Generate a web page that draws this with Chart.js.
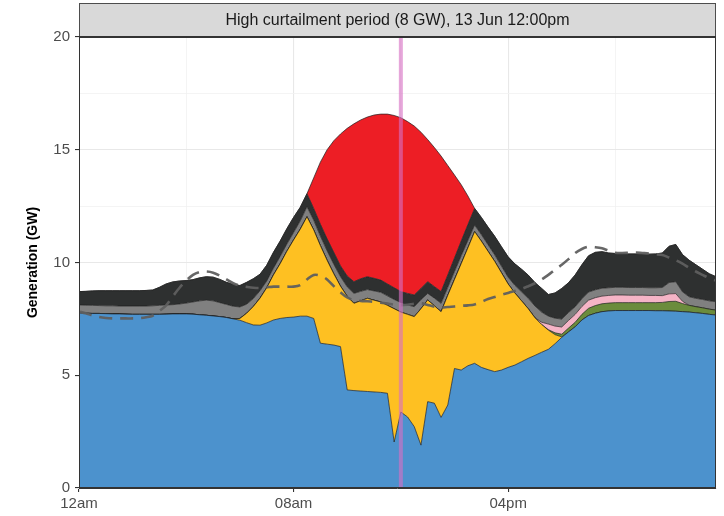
<!DOCTYPE html>
<html>
<head>
<meta charset="utf-8">
<script src="https://cdn.jsdelivr.net/npm/chart.js@4/dist/chart.umd.min.js"></script>
<style>
  html, body { margin: 0; padding: 0; background: #ffffff; }
  #wrap { width: 724px; height: 516px; position: relative; }
</style>
</head>
<body>
<div id="wrap"><canvas id="chart" width="724" height="516"></canvas></div>
<script>
// 15-minute generation intervals across one day (hours after midnight)
const SLOT_HOURS = 0.25;
const SLOT_COUNT = 96;

// Tick labels shown on the time axis
const timeTickLabels = { 0: '12am', 8: '08am', 16: '04pm' };
const panelTitle = 'High curtailment period (8 GW), 13 Jun 12:00pm';
const yAxisTitle = 'Generation (GW)';
const markerHour = 12;

// Stacked generation by source (GW), bottom of the stack first
const baseload = [
  7.76, 7.75, 7.74, 7.74, 7.73, 7.72, 7.72, 7.71, 7.70, 7.70, 7.70, 7.70,
  7.70, 7.71, 7.72, 7.72, 7.72, 7.71, 7.68, 7.66, 7.63, 7.60, 7.56, 7.50,
  7.44, 7.33, 7.23, 7.22, 7.32, 7.45, 7.52, 7.56, 7.58, 7.62, 7.62, 7.52,
  6.42, 6.38, 6.34, 6.27, 4.35, 4.32, 4.30, 4.28, 4.26, 4.24, 4.20, 2.04,
  3.37, 3.15, 2.72, 1.90, 3.83, 3.76, 3.13, 3.68, 5.30, 5.23, 5.42, 5.53,
  5.35, 5.25, 5.16, 5.23, 5.35, 5.45, 5.60, 5.75, 5.88, 6.02, 6.15, 6.40,
  6.68, 6.92, 7.15, 7.45, 7.65, 7.75, 7.82, 7.85, 7.87, 7.87, 7.87, 7.87,
  7.87, 7.87, 7.86, 7.86, 7.85, 7.84, 7.82, 7.80, 7.77, 7.74, 7.70, 7.67
];
const solar = [
  0, 0, 0, 0, 0, 0, 0, 0, 0, 0, 0, 0,
  0, 0, 0, 0, 0, 0, 0, 0, 0, 0, 0, 0,
  0.08, 0.42, 0.82, 1.20, 1.56, 2.00, 2.43, 2.94, 3.42, 3.86, 4.41, 3.93,
  4.33, 3.72, 3.16, 2.68, 4.15, 3.87, 4.00, 4.13, 4.07, 4.01, 3.90, 5.91,
  4.43, 4.55, 4.88, 6.05, 4.51, 4.32, 4.69, 4.87, 3.95, 4.72, 5.23, 5.84,
  5.60, 5.25, 4.89, 4.32, 3.70, 3.20, 2.70, 2.20, 1.67, 1.23, 0.85, 0.40,
  0.02, 0, 0, 0, 0, 0, 0, 0, 0, 0, 0, 0,
  0, 0, 0, 0, 0, 0, 0, 0, 0, 0, 0, 0
];
const bioenergy = [
  0, 0, 0, 0, 0, 0, 0, 0, 0, 0, 0, 0,
  0, 0, 0, 0, 0, 0, 0, 0, 0, 0, 0, 0,
  0, 0, 0, 0, 0, 0, 0, 0, 0, 0, 0, 0,
  0, 0, 0, 0, 0, 0, 0, 0, 0, 0, 0, 0,
  0, 0, 0, 0, 0, 0, 0, 0, 0, 0, 0, 0,
  0, 0, 0, 0, 0, 0, 0, 0, 0, 0, 0.02, 0.08,
  0.12, 0.17, 0.20, 0.25, 0.32, 0.34, 0.35, 0.35, 0.35, 0.35, 0.35, 0.35,
  0.35, 0.35, 0.36, 0.37, 0.42, 0.44, 0.36, 0.30, 0.27, 0.25, 0.23, 0.22
];
const otherGen = [
  0, 0, 0, 0, 0, 0, 0, 0, 0, 0, 0, 0,
  0, 0, 0, 0, 0, 0, 0, 0, 0, 0, 0, 0,
  0, 0, 0, 0, 0, 0, 0, 0, 0, 0, 0, 0,
  0, 0, 0, 0, 0, 0, 0, 0, 0, 0, 0, 0,
  0, 0, 0, 0, 0, 0, 0, 0, 0, 0, 0, 0,
  0, 0, 0, 0, 0, 0, 0, 0, 0, 0.10, 0.25, 0.30,
  0.32, 0.34, 0.35, 0.35, 0.36, 0.35, 0.34, 0.34, 0.34, 0.34, 0.33, 0.33,
  0.33, 0.32, 0.32, 0.30, 0.34, 0.34, 0.10, 0, 0, 0, 0, 0
];
const gas = [
  0.36, 0.36, 0.36, 0.35, 0.35, 0.36, 0.35, 0.36, 0.37, 0.37, 0.37, 0.38,
  0.40, 0.41, 0.41, 0.44, 0.48, 0.54, 0.62, 0.67, 0.67, 0.62, 0.58, 0.56,
  0.51, 0.40, 0.35, 0.33, 0.30, 0.30, 0.32, 0.32, 0.33, 0.37, 0.44, 0.43,
  0.42, 0.42, 0.42, 0.42, 0.42, 0.44, 0.42, 0.39, 0.41, 0.43, 0.42, 0.41,
  0.42, 0.42, 0.44, 0.40, 0.29, 0.34, 0.37, 0.35, 0.35, 0.35, 0.33, 0.29,
  0.29, 0.29, 0.29, 0.29, 0.30, 0.34, 0.40, 0.46, 0.52, 0.45, 0.35, 0.35,
  0.35, 0.35, 0.34, 0.34, 0.36, 0.35, 0.35, 0.34, 0.34, 0.34, 0.34, 0.34,
  0.34, 0.34, 0.34, 0.36, 0.50, 0.53, 0.42, 0.38, 0.37, 0.37, 0.37, 0.37
];
const wind = [
  0.59, 0.61, 0.64, 0.66, 0.67, 0.67, 0.68, 0.68, 0.68, 0.68, 0.69, 0.70,
  0.80, 0.93, 1.01, 1.02, 1.00, 0.99, 1.02, 1.04, 1.05, 1.03, 0.98, 0.97,
  0.95, 0.97, 0.88, 0.73, 0.70, 0.70, 0.68, 0.68, 0.67, 0.60, 0.58, 0.52,
  0.53, 0.53, 0.53, 0.48, 0.48, 0.52, 0.56, 0.57, 0.56, 0.54, 0.53, 0.52,
  0.49, 0.51, 0.52, 0.50, 0.52, 0.51, 0.52, 0.55, 0.60, 0.65, 0.70, 0.74,
  0.76, 0.78, 0.82, 0.86, 0.90, 0.95, 1.00, 1.03, 1.04, 1.05, 0.96, 1.12,
  1.36, 1.32, 1.41, 1.51, 1.61, 1.66, 1.62, 1.54, 1.50, 1.50, 1.49, 1.49,
  1.48, 1.49, 1.50, 1.53, 1.61, 1.65, 1.65, 1.62, 1.49, 1.34, 1.20, 1.11
];
const curtailed = [
  0, 0, 0, 0, 0, 0, 0, 0, 0, 0, 0, 0,
  0, 0, 0, 0, 0, 0, 0, 0, 0, 0, 0, 0,
  0, 0, 0, 0, 0, 0, 0, 0, 0, 0, 0, 1.35,
  2.75, 3.95, 4.95, 5.85, 6.55, 7.00, 7.04, 7.08, 7.24, 7.36, 7.53, 7.64,
  7.71, 7.62, 7.49, 6.93, 6.30, 6.17, 6.01, 4.85, 3.68, 2.50, 1.27, 0,
  0, 0, 0, 0, 0, 0, 0, 0, 0, 0, 0, 0,
  0, 0, 0, 0, 0, 0, 0, 0, 0, 0, 0, 0,
  0, 0, 0, 0, 0, 0, 0, 0, 0, 0, 0, 0
];
// Operational demand (GW), drawn as a dashed line
const demand = [
  7.82, 7.75, 7.65, 7.58, 7.54, 7.52, 7.52, 7.52, 7.52, 7.53, 7.57, 7.64,
  7.85, 8.10, 8.50, 8.88, 9.20, 9.45, 9.58, 9.60, 9.55, 9.42, 9.25, 9.08,
  8.97, 8.92, 8.88, 8.87, 8.90, 8.93, 8.93, 8.93, 8.93, 9.00, 9.25, 9.45,
  9.42, 9.25, 8.95, 8.68, 8.45, 8.33, 8.30, 8.28, 8.26, 8.22, 8.18, 8.13,
  8.11, 8.13, 8.17, 8.19, 8.12, 8.04, 8.00, 8.03, 8.05, 8.08, 8.10, 8.14,
  8.25, 8.38, 8.47, 8.57, 8.65, 8.74, 8.83, 8.95, 9.08, 9.25, 9.45, 9.68,
  9.90, 10.15, 10.42, 10.60, 10.70, 10.68, 10.63, 10.52, 10.43, 10.42, 10.43, 10.44,
  10.42, 10.40, 10.37, 10.33, 10.22, 10.10, 9.95, 9.76, 9.60, 9.45, 9.30, 9.20
];

const FONT = "'Liberation Sans', Arial, Helvetica, sans-serif";
const hours = [];
for (let i = 0; i < SLOT_COUNT; i++) hours.push(i * SLOT_HOURS);

const toPoints = (vals) => vals.map((v, i) => ({ x: hours[i], y: v }));

const layers = [
  { label: 'Baseload', data: baseload, color: '#4c92cd' },
  { label: 'Solar', data: solar, color: '#fec022' },
  { label: 'Bioenergy', data: bioenergy, color: '#6b8c3c' },
  { label: 'Other', data: otherGen, color: '#f5b4c6' },
  { label: 'Gas', data: gas, color: '#808080' },
  { label: 'Wind', data: wind, color: '#2e3030' },
  { label: 'Curtailed', data: curtailed, color: '#ed1e25' }
];

const datasets = layers.map((l, idx) => ({
  label: l.label,
  data: toPoints(l.data),
  backgroundColor: l.color,
  borderColor: '#1c1c1c',
  borderWidth: 0.7,
  fill: idx === 0 ? 'origin' : '-1',
  pointRadius: 0,
  tension: 0,
  stack: 'supply',
  order: 1
}));

datasets.push({
  label: 'Demand',
  data: toPoints(demand),
  borderColor: 'rgba(95, 95, 95, 0.95)',
  borderWidth: 2.6,
  borderDash: [13, 8],
  fill: false,
  pointRadius: 0,
  tension: 0.3,
  stack: 'demand',
  order: 0
});

const isMajorY = (v) => Math.abs(v % 5) < 1e-6;
const isMajorX = (v) => Math.abs(v % 8) < 1e-6;

// Facet strip, panel frame, axis title and the 12:00 marker line
const decorations = {
  id: 'decorations',
  afterDatasetsDraw(chart) {
    const { ctx, chartArea: a, scales } = chart;
    const x = scales.x.getPixelForValue(markerHour);
    ctx.save();
    ctx.strokeStyle = 'rgba(214, 112, 196, 0.62)';
    ctx.lineWidth = 4;
    ctx.beginPath();
    ctx.moveTo(x, a.top);
    ctx.lineTo(x, a.bottom);
    ctx.stroke();
    ctx.restore();
  },
  afterDraw(chart) {
    const { ctx, chartArea: a } = chart;
    ctx.save();
    // strip
    ctx.fillStyle = '#d9d9d9';
    ctx.fillRect(a.left, 3, a.right - a.left, a.top - 3);
    ctx.strokeStyle = '#4d4d4d';
    ctx.lineWidth = 1;
    ctx.strokeRect(a.left + 0.5, 3.5, a.right - a.left - 1, a.top - 3.5);
    ctx.fillStyle = '#1a1a1a';
    ctx.font = '16px ' + FONT;
    ctx.textAlign = 'center';
    ctx.textBaseline = 'middle';
    ctx.fillText(panelTitle, (a.left + a.right) / 2, (3 + a.top) / 2 + 1);
    // panel frame
    ctx.strokeStyle = '#333333';
    ctx.lineWidth = 1;
    ctx.strokeRect(a.left + 0.5, a.top + 0.5, a.right - a.left - 1, a.bottom - a.top - 1);
    ctx.lineWidth = 2;
    ctx.beginPath();
    ctx.moveTo(a.left, a.top);
    ctx.lineTo(a.right, a.top);
    ctx.stroke();
    // y axis title
    ctx.translate(33, (a.top + a.bottom) / 2);
    ctx.rotate(-Math.PI / 2);
    ctx.fillStyle = '#000000';
    ctx.font = 'bold 14px ' + FONT;
    ctx.fillText(yAxisTitle, 0, 0);
    ctx.restore();
  }
};

new Chart(document.getElementById('chart'), {
  type: 'line',
  data: { datasets },
  plugins: [decorations],
  options: {
    responsive: false,
    animation: false,
    devicePixelRatio: 1,
    layout: { padding: { top: 37, right: 8, left: 0, bottom: 0 } },
    plugins: {
      legend: { display: false },
      tooltip: { enabled: false },
      filler: { propagate: false }
    },
    scales: {
      x: {
        type: 'linear',
        min: 0,
        max: (SLOT_COUNT - 1) * SLOT_HOURS,
        afterFit: (s) => { s.height = 28; },
        border: { display: true, color: '#333333', width: 1 },
        grid: {
          color: (c) => (c.tick && c.tick.value === 0) ? 'rgba(0,0,0,0)' : (c.tick && isMajorX(c.tick.value) ? '#e8e8e8' : '#f1f1f1'),
          lineWidth: (c) => (c.tick && isMajorX(c.tick.value)) ? 1.1 : 0.8,
          tickColor: (c) => (c.tick && isMajorX(c.tick.value)) ? '#333333' : 'rgba(0,0,0,0)',
          tickLength: 4,
          drawTicks: true
        },
        ticks: {
          stepSize: 4,
          includeBounds: false,
          autoSkip: false,
          maxRotation: 0,
          padding: 3,
          color: '#4d4d4d',
          font: { family: FONT, size: 15 },
          callback: (v) => timeTickLabels[v] !== undefined ? timeTickLabels[v] : ''
        }
      },
      y: {
        stacked: true,
        min: 0,
        max: 20,
        afterFit: (s) => { s.width = 79; },
        border: { display: true, color: '#333333', width: 1 },
        grid: {
          color: (c) => (c.tick && c.tick.value === 0) ? 'rgba(0,0,0,0)' : (c.tick && isMajorY(c.tick.value) ? '#e8e8e8' : '#f1f1f1'),
          lineWidth: (c) => (c.tick && isMajorY(c.tick.value)) ? 1.1 : 0.8,
          tickColor: (c) => (c.tick && isMajorY(c.tick.value)) ? '#333333' : 'rgba(0,0,0,0)',
          tickLength: 4,
          drawTicks: true
        },
        ticks: {
          stepSize: 2.5,
          autoSkip: false,
          padding: 5,
          color: '#4d4d4d',
          font: { family: FONT, size: 15 },
          callback: (v) => isMajorY(v) ? String(v) : ''
        }
      }
    }
  }
});
</script>
</body>
</html>
